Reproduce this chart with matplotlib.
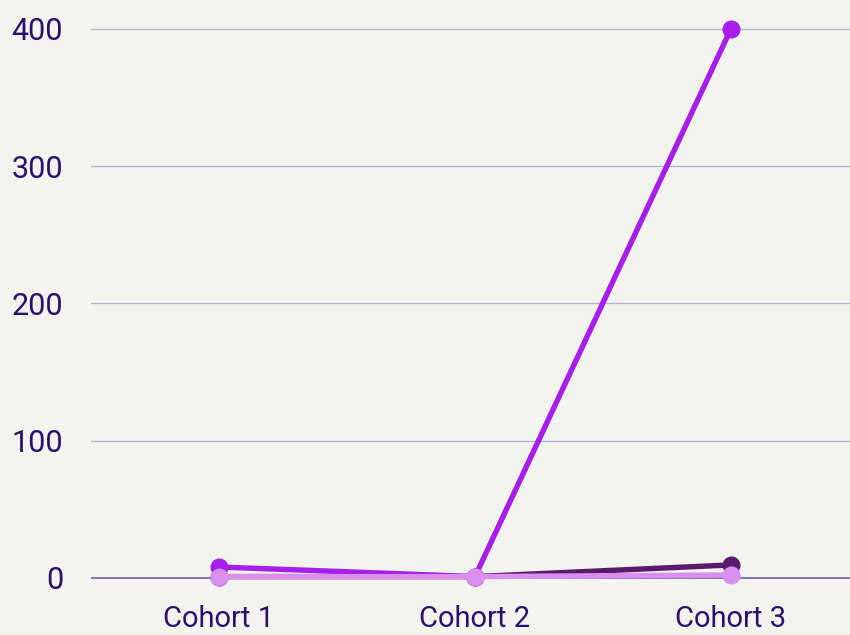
import matplotlib
matplotlib.use("Agg")
import matplotlib.pyplot as plt

categories = ["Cohort 1", "Cohort 2", "Cohort 3"]
series_a = [8, 1, 400]     # bright purple
series_b = [1, 1, 9.5]     # dark purple
series_c = [1, 1, 2.2]     # light pink
yticks = [0, 100, 200, 300, 400]

plt.rcParams['font.family'] = ['Roboto', 'DejaVu Sans']

fig = plt.figure(figsize=(8.5, 6.35), dpi=100)
bg = "#f4f4ef"
fig.patch.set_facecolor(bg)
ax = fig.add_axes([91/850, 1 - 595/635, (850 - 91)/850, 595/635])
ax.set_facecolor(bg)

x = list(range(len(categories)))
for vals, col in [(series_a, "#a61ee8"), (series_b, "#5a1a6c"), (series_c, "#da8ff0")]:
    ax.plot(x, vals, color=col, lw=3.9, marker="o", markersize=12, solid_capstyle="round", zorder=3)

ax.set_xlim(-0.5, 2.465)
ax.set_ylim(-12.4, 421)
ax.set_yticks(yticks)
ax.set_xticks(x)
ax.set_xticklabels(categories)
for t in yticks:
    ax.axhline(t, color="#7b6aa8" if t == 0 else "#b9b2d2", lw=1.3 if t == 0 else 1.0, zorder=1)
for s in ax.spines.values():
    s.set_visible(False)
ax.tick_params(axis="both", length=0, colors="#2a0f6e")
ax.tick_params(axis="y", pad=20, labelsize=22)
ax.tick_params(axis="x", pad=7, labelsize=21)
fig.savefig("out.png", dpi=100, facecolor=bg)
